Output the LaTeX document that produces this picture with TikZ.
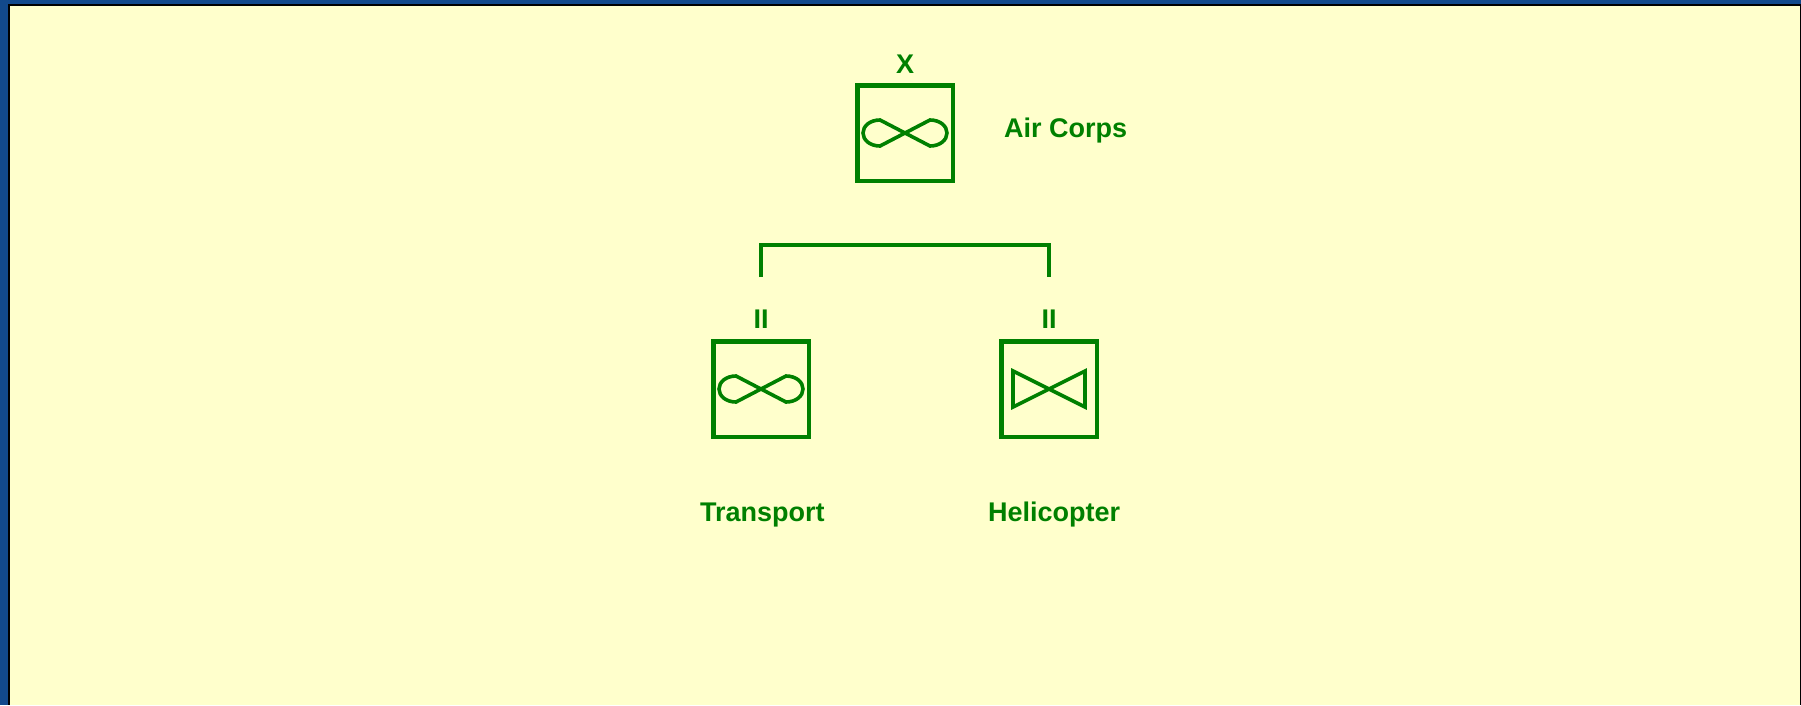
\documentclass[tikz,border=0pt]{standalone}
\usepackage{fontspec}
\setmainfont{Liberation Sans}
\definecolor{armygreen}{HTML}{008000}
\definecolor{cream}{HTML}{FFFFCC}
\definecolor{bluebg}{HTML}{12498C}
\tikzset{
  unitbox/.style={draw=armygreen,line width=4.5pt,minimum size=95.5pt,inner sep=0pt,fill=none},
  lbl/.style={text=armygreen,font=\fontsize{27}{31}\selectfont\bfseries,anchor=base,inner sep=0pt},
  echelon/.style={text=armygreen,font=\fontsize{27}{31}\selectfont\bfseries,anchor=base,inner sep=0pt},
  link/.style={draw=armygreen,line width=4.5pt,line cap=butt,line join=miter},
  symb/.style={draw=armygreen,line width=3.6pt,line join=miter},
  pics/infinity/.style={code={
    \draw[symb] (-25,-13) -- (25,13) .. controls (35,13) and (42,7) .. (42,0) .. controls (42,-7) and (35,-13) .. (25,-13) -- (-25,13) .. controls (-35,13) and (-42,7) .. (-42,0) .. controls (-42,-7) and (-35,-13) .. (-25,-13) -- cycle;
  }},
  pics/bowtie/.style={code={
    \draw[symb] (-36,-18) -- (36,18) -- (36,-18) -- (-36,18) -- cycle;
  }}
}
\begin{document}
\begin{tikzpicture}[x=1pt,y=-1pt]
\useasboundingbox (0,0) rectangle (1801,705);
\fill[bluebg] (0,0) rectangle (1801,705);
\fill[black] (8,4) rectangle (1801,705);
\fill[cream] (10,6) rectangle (1800,705);

\node[unitbox] (corps) at (905,133) {};
\node[unitbox] (transport) at (761,389) {};
\node[unitbox] (heli) at (1049,389) {};

\pic at (corps.center) {infinity};
\pic at (transport.center) {infinity};
\pic at (heli.center) {bowtie};

\node[echelon] (xlabel) at (905,73) {X};
\node[echelon] (iia) at (761,328) {II};
\node[echelon] (iib) at (1049,328) {II};

\node[lbl,anchor=base west] (aircorps) at (1004,137) {Air Corps};
\node[lbl,anchor=base west] (transportlabel) at (700,521) {Transport};
\node[lbl,anchor=base west] (helilabel) at (988,521) {Helicopter};

\coordinate (bl) at (761,277);
\coordinate (tl) at (761,245);
\coordinate (tr) at (1049,245);
\coordinate (br) at (1049,277);
\draw[link] (bl) -- (tl) -- (tr) -- (br);
\end{tikzpicture}
\end{document}
